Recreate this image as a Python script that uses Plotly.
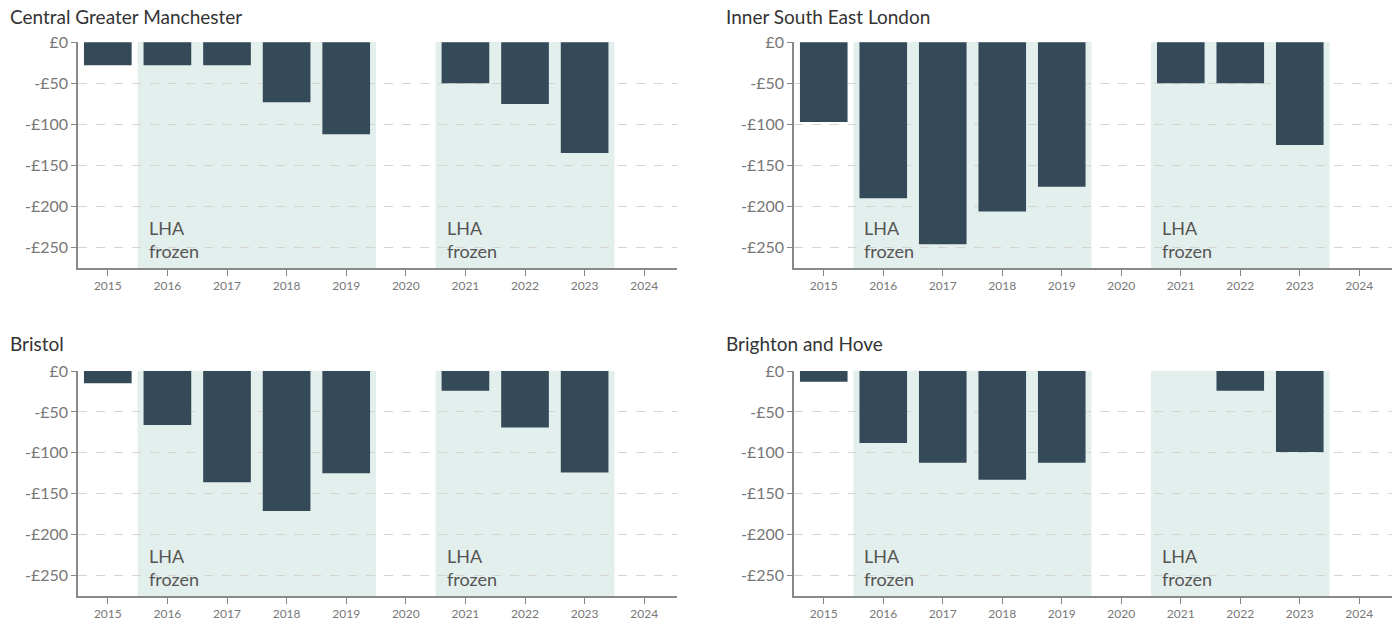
import plotly.graph_objects as go

years = [2015, 2016, 2017, 2018, 2019, 2020, 2021, 2022, 2023, 2024]
titles = ["Central Greater Manchester", "Inner South East London", "Bristol", "Brighton and Hove"]
manchester = [-28, -28, -28, -73, -112, None, -50, -75, -135, None]
se_london = [-97, -190, -246, -206, -176, None, -50, -50, -125, None]
bristol = [-15, -66, -136, -171, -125, None, -24, -69, -124, None]
brighton = [-13, -88, -112, -133, -112, None, None, -24, -99, None]
frozen_periods = [(2016, 2019), (2021, 2023)]
ytick_vals = [0, -50, -100, -150, -200, -250]
ytick_text = ["£0", "-£50", "-£100", "-£150", "-£200", "-£250"]

W, H = 1399, 626
series = [manchester, se_london, bristol, brighton]


def px_x(p):
    return p / W


def px_y(p):
    return 1 - p / H


xdoms = [[px_x(78), px_x(677)], [px_x(794), px_x(1392)]]
ydoms = [[px_y(268), px_y(42)], [px_y(596), px_y(370.7)]]
title_pos = [(8, 16), (724, 16), (8, 343), (724, 343)]

BAR = "#354a59"
SHADE = "#e3efec"
FONT = "Lato"

fig = go.Figure()
layout = dict(
    width=W, height=H,
    margin=dict(l=0, r=0, t=0, b=0),
    paper_bgcolor="white", plot_bgcolor="rgba(0,0,0,0)",
    showlegend=False, bargap=0.2,
    font=dict(family=FONT),
)
shapes, annotations = [], []
for i, vals in enumerate(series):
    r, c = divmod(i, 2)
    n = "" if i == 0 else str(i + 1)
    xa, ya = "x" + n, "y" + n
    fig.add_trace(go.Bar(x=years, y=vals, marker=dict(color=BAR, line=dict(width=0)),
                         width=0.8, xaxis=xa, yaxis=ya, hoverinfo="x+y"))
    layout["xaxis" + n] = dict(
        domain=xdoms[c], anchor=ya, range=[2014.5, 2024.55], tickvals=years,
        ticktext=[str(y) for y in years], ticks="outside", ticklen=6, tickcolor="#888",
        showline=True, linecolor="#888", linewidth=1.5, showgrid=False, zeroline=False,
        tickfont=dict(size=12, color="#777", family=FONT), automargin=False,
    )
    layout["yaxis" + n] = dict(
        domain=ydoms[r], anchor=xa, range=[-275, 0.4], tickvals=ytick_vals, ticktext=ytick_text,
        ticks="outside", ticklen=5, tickcolor="#888", showline=True, linecolor="#888",
        linewidth=1.5, showgrid=True, gridcolor="#d4d4d4", griddash="dash", gridwidth=1,
        zeroline=False, tickfont=dict(size=16, color="#777", family=FONT), automargin=False,
    )
    for (a, b) in frozen_periods:
        shapes.append(dict(type="rect", xref=xa, yref=ya + " domain", x0=a - 0.5, x1=b + 0.5,
                           y0=0, y1=1, fillcolor=SHADE, line=dict(width=0), layer="below"))
        annotations.append(dict(xref=xa, yref=ya, x=a - 0.5 + 0.15, y=-240, text="LHA<br>frozen",
                                showarrow=False, xanchor="left", yanchor="middle", align="left",
                                font=dict(size=18, color="#555", family=FONT)))
    tx, ty = title_pos[i]
    annotations.append(dict(xref="paper", yref="paper", x=px_x(tx), y=px_y(ty), text=titles[i],
                            showarrow=False, xanchor="left", yanchor="middle",
                            font=dict(size=19, color="#333", family=FONT)))
layout["shapes"] = shapes
layout["annotations"] = annotations
fig.update_layout(**layout)
fig.write_html("out.html", config={"displayModeBar": False},
               post_script="document.body.style.margin='0';")
